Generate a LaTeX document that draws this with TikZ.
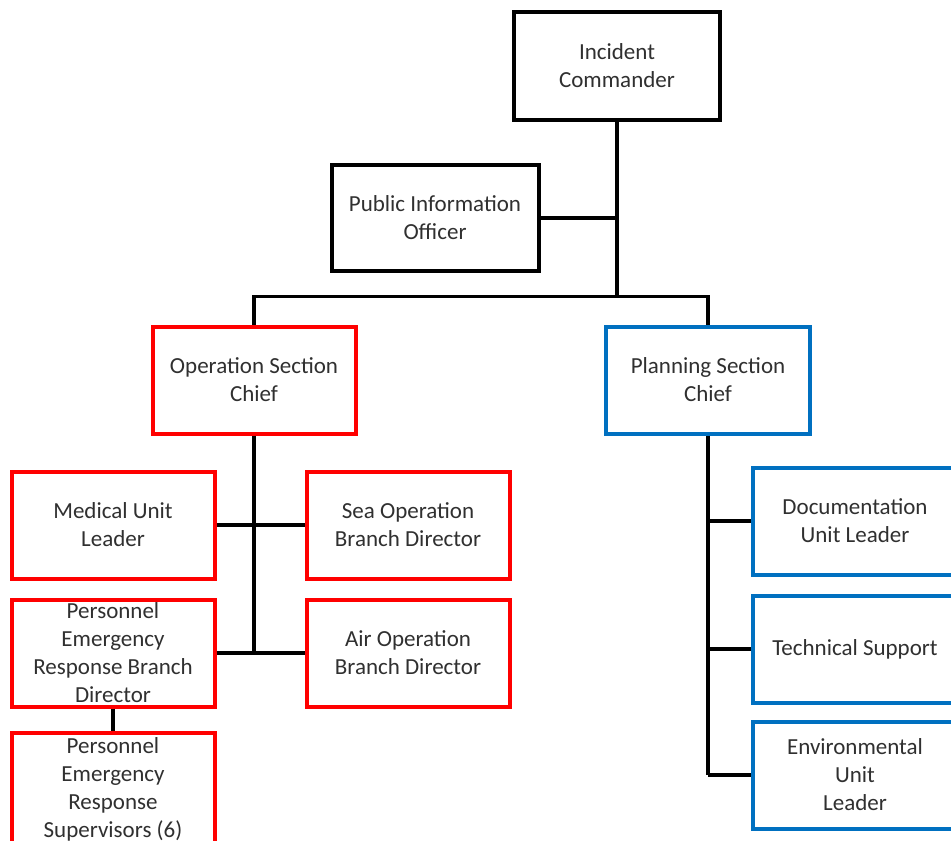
\documentclass[tikz,border=0pt]{standalone}
\usepackage{fontspec}
\setmainfont{Carlito}
\usepackage{xcolor}
\usetikzlibrary{positioning}
\definecolor{opsred}{HTML}{FF0000}
\definecolor{planblue}{HTML}{0070C0}
\definecolor{txtgray}{HTML}{303030}

\begin{document}
\begin{tikzpicture}[
    x=1pt, y=-1pt,
    every node/.style={font=\fontsize{23}{28}\selectfont, text=txtgray},
    unitbox/.style={draw=black, line width=4pt, fill=white, align=center,
      minimum width=206pt, minimum height=107pt, inner sep=0pt},
    opsbox/.style={unitbox, draw=opsred, minimum width=203pt},
    planbox/.style={unitbox, draw=planblue, minimum width=204pt},
    link/.style={draw=black, line width=3.5pt},
  ]
    % Canvas: pixel grid of the reference, y runs downwards
    \useasboundingbox (0,0) rectangle (951,841);
    \clip (0,0) rectangle (951,841);

    % --- Command level
    \node[unitbox, minimum height=108pt] (ic) at (617,66)
      {Incident\\Commander};
    \node[unitbox, minimum width=207pt, minimum height=106pt] (pio) at (435,218)
      {Public Information\\Officer};

    % --- Section chiefs
    \node[opsbox] (ops) at (254,380) {Operation Section\\Chief};
    \node[planbox] (plan) at (708,380) {Planning Section\\Chief};

    % --- Operation section units
    \node[opsbox] (med) at (113,525) {Medical Unit\\Leader};
    \node[opsbox] (sea) at (408,525) {Sea Operation\\Branch Director};
    \node[opsbox] (perbd) at (113,653)
      {Personnel\\Emergency\\Response Branch\\Director};
    \node[opsbox] (air) at (408,653) {Air Operation\\Branch Director};
    \node[opsbox, minimum height=112pt] (sup) at (113,789)
      {Personnel\\Emergency\\Response\\Supervisors (6)};

    % --- Planning section units
    \node[planbox] (doc) at (855,521) {Documentation\\Unit Leader};
    \node[planbox] (tech) at (855,649) {Technical Support};
    \node[planbox] (env) at (855,775) {Environmental\\Unit\\Leader};

    % --- Connectors
    \coordinate (bus) at (ic.south |- 0,297);
    \draw[link] (ic.south) -- (bus);
    \draw[link] (pio.east) -- (pio.east -| ic.south);
    \draw[link] (ops.north) -- ++(0,-28) -| (plan.north);

    \draw[link] (ops.south) -- (ops.south |- perbd.east);
    \draw[link] (med.east) -- (sea.west);
    \draw[link] (perbd.east) -- (air.west);
    \draw[link] (perbd.south) -- (sup.north);

    \draw[link] (plan.south) -- (plan.south |- env.west);
    \foreach \u in {doc,tech,env} {
      \draw[link] (\u.west) -- (\u.west -| plan.south);
    }
  \end{tikzpicture}
\end{document}
